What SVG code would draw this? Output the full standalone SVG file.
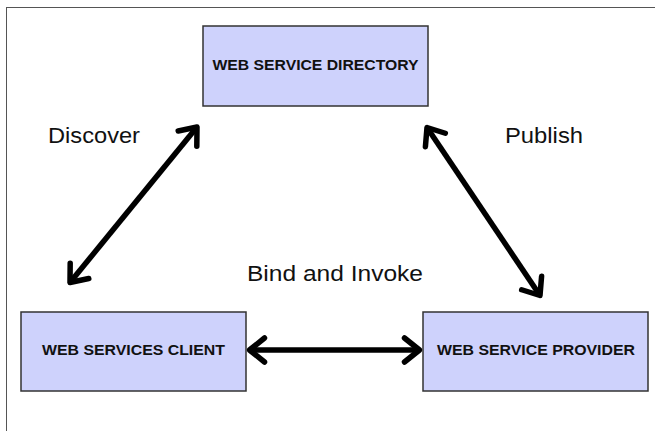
<svg xmlns="http://www.w3.org/2000/svg" width="655" height="431" viewBox="0 0 655 431">
<defs>
<style>
.box{fill:#ced2fc;stroke:#333;stroke-width:1.5}
.bt{font-family:"Liberation Sans",Arial,sans-serif;font-weight:bold;font-size:15px;fill:#111;text-anchor:middle}
.lb{font-family:"Liberation Sans",Arial,sans-serif;font-size:22px;fill:#111}
.conn{stroke:#000;stroke-width:5.5;fill:none;marker-start:url(#ah);marker-end:url(#ah)}
</style>
<marker id="ah" markerUnits="userSpaceOnUse" viewBox="-20 -15 25 30" refX="0" refY="0" markerWidth="25" markerHeight="30" orient="auto-start-reverse" overflow="visible">
<path d="M-15,-12 L0,0 L-15,12" fill="none" stroke="#000" stroke-width="5.5" stroke-linecap="round" stroke-linejoin="round"/>
</marker>
</defs>
<rect x="6.5" y="7.5" width="700" height="500" fill="#fff" stroke="#555" stroke-width="1"/>
<g id="connectors">
<line class="conn" x1="70" y1="282.5" x2="197" y2="127"/>
<line class="conn" x1="427" y1="127.5" x2="540" y2="295.5"/>
<line class="conn" x1="249.5" y1="350" x2="419.5" y2="350"/>
</g>
<g id="directory">
<rect class="box" x="203" y="26" width="225" height="80"/>
<text class="bt" x="315.5" y="70" textLength="206" lengthAdjust="spacingAndGlyphs">WEB SERVICE DIRECTORY</text>
</g>
<g id="client">
<rect class="box" x="21" y="312" width="225" height="79"/>
<text class="bt" x="133.5" y="355" textLength="183" lengthAdjust="spacingAndGlyphs">WEB SERVICES CLIENT</text>
</g>
<g id="provider">
<rect class="box" x="423" y="312" width="225" height="79"/>
<text class="bt" x="536" y="355" textLength="198" lengthAdjust="spacingAndGlyphs">WEB SERVICE PROVIDER</text>
</g>
<g id="labels">
<text class="lb" x="48" y="143" textLength="92" lengthAdjust="spacingAndGlyphs">Discover</text>
<text class="lb" x="505" y="143" textLength="78" lengthAdjust="spacingAndGlyphs">Publish</text>
<text class="lb" x="247" y="281" textLength="176" lengthAdjust="spacingAndGlyphs">Bind and Invoke</text>
</g>
</svg>
